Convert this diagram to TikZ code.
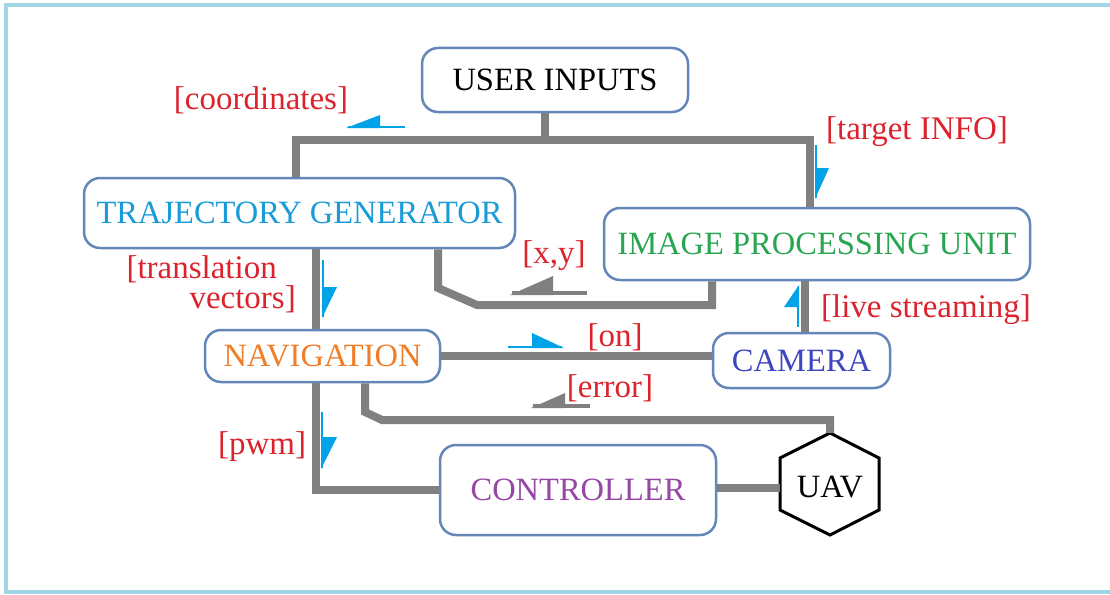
\documentclass[tikz,border=0pt]{standalone}
\usepackage{fontspec}
\setmainfont{Liberation Serif}
\usetikzlibrary{calc}
\definecolor{boxblue}{RGB}{100,135,185}
\definecolor{conngray}{RGB}{128,128,128}
\definecolor{harpblue}{RGB}{0,162,232}
\definecolor{lblred}{RGB}{220,35,45}
\definecolor{tgblue}{RGB}{25,155,215}
\definecolor{ipugreen}{RGB}{40,165,80}
\definecolor{navorange}{RGB}{240,125,40}
\definecolor{camblue}{RGB}{60,70,190}
\definecolor{ctlpurple}{RGB}{150,70,165}
\definecolor{framecol}{RGB}{160,215,230}
\begin{document}
\begin{tikzpicture}[x=1pt,y=-1pt,
  blk/.style={draw=boxblue, line width=2.5pt, rounded corners=16pt, inner sep=0pt,
    font=\fontsize{32.5}{34}\selectfont, fill=white},
  conn/.style={draw=conngray, line width=8pt},
  lbl/.style={text=lblred, font=\fontsize{33}{30}\selectfont, inner sep=0pt},
  bline/.style={draw=harpblue, line width=2.5pt},
  bhead/.style={fill=harpblue},
  gline/.style={draw=conngray, line width=4pt},
  ghead/.style={fill=conngray},
  hexline/.style={draw=black, line width=3pt, line join=miter}]
\useasboundingbox (0,0) rectangle (1110,594);
% frame
\draw[framecol, line width=4pt] (1115,5) -- (6,5) -- (6,592) -- (1115,592);

% blocks
\node[blk, minimum width=266pt, minimum height=64pt] (ui) at (555,80) {USER INPUTS};
\node[blk, minimum width=431pt, minimum height=70pt, text=tgblue] (tg) at (299.5,213) {TRAJECTORY GENERATOR};
\node[blk, minimum width=426pt, minimum height=72pt, text=ipugreen] (ipu) at (817,244) {IMAGE PROCESSING UNIT};
\node[blk, minimum width=235pt, minimum height=52pt, text=navorange] (nav) at (322.5,356) {NAVIGATION};
\node[blk, minimum width=177pt, minimum height=55pt, text=camblue] (cam) at (801.5,360.5) {CAMERA};
\node[blk, minimum width=276pt, minimum height=90pt, text=ctlpurple] (ctl) at (578,490) {CONTROLLER};
\node[inner sep=0pt, font=\fontsize{32.5}{34}\selectfont] (uav) at (830,487) {UAV};
\draw[hexline] ($(uav)+(0,-54)$) coordinate (uavtop) -- ($(uav)+(49,-29)$) -- ($(uav)+(49,23)$)
  -- ($(uav)+(0,48)$) -- ($(uav)+(-50,23)$) -- ($(uav)+(-50,-29)$) -- cycle;
\coordinate (uavleft) at ($(uav)+(-50,1)$);

% connectors
\coordinate (bus) at (545,140);
\coordinate (busl) at (296,140);
\coordinate (busr) at (810,140);
\draw[conn] (bus |- ui.south) -- (bus);
\draw[conn] (busl |- tg.north) -- (busl) -- (busr) -- (busr |- ipu.north);
\coordinate (tn) at (316,300);
\draw[conn] (tn |- tg.south) -- (tn |- nav.north);
\coordinate (xy1) at (438,288);
\coordinate (xy2) at (477,305);
\coordinate (xy3) at (712,305);
\draw[conn] (xy1 |- tg.south) -- (xy1) -- (xy2) -- (xy3) -- (xy3 |- ipu.south);
\coordinate (ls) at (805,300);
\draw[conn] (ls |- ipu.south) -- (ls |- cam.north);
\draw[conn] (nav.east) -- (nav.east -| cam.west);
\coordinate (er1) at (365,412);
\coordinate (er2) at (382,420);
\draw[conn] (er1 |- nav.south) -- (er1) -- (er2) -- (er2 -| uavtop) -- (uavtop);
\coordinate (pw) at (316,490);
\draw[conn] (pw |- nav.south) -- (pw) -- (ctl.west);
\draw[conn] (ctl.east |- uavleft) -- (uavleft);

% direction marks
\draw[bline] (348,127) -- (405,127);
\fill[bhead] (346,128) -- (380,115) -- (380,128) -- cycle;
\draw[bline] (816,145) -- (816,198);
\fill[bhead] (815,168) -- (829,168) -- (815,199) -- cycle;
\draw[bline] (323,260) -- (323,317);
\fill[bhead] (322,287) -- (337,287) -- (322,318) -- cycle;
\draw[bline] (322,412) -- (322,468);
\fill[bhead] (321,437) -- (337,437) -- (321,469) -- cycle;
\draw[bline] (508,347) -- (562,347);
\fill[bhead] (532,333) -- (564,348) -- (532,348) -- cycle;
\draw[bline] (798,287) -- (798,327);
\fill[bhead] (799,285) -- (784,307) -- (799,307) -- cycle;
\draw[gline] (512,293) -- (587,293);
\fill[ghead] (510,295) -- (553,276) -- (553,295) -- cycle;
\draw[gline] (533,406) -- (590,406);
\fill[ghead] (531,408) -- (565,393) -- (565,408) -- cycle;

% labels
\node[lbl] (lcoord) at (261,100) {[coordinates]};
\node[lbl] (ltarget) at (917,132) {[target INFO]};
\node[lbl] (lxy) at (554,256) {[x,y]};
\node[lbl, align=right, anchor=north east] (ltrans) at (296,255) {[translation\hspace*{19pt}\\vectors]};
\node[lbl] (lon) at (615,337) {[on]};
\node[lbl] (llive) at (926,310) {[live streaming]};
\node[lbl] (lerr) at (610,388) {[error]};
\node[lbl] (lpwm) at (262,447) {[pwm]};
\end{tikzpicture}
\end{document}
